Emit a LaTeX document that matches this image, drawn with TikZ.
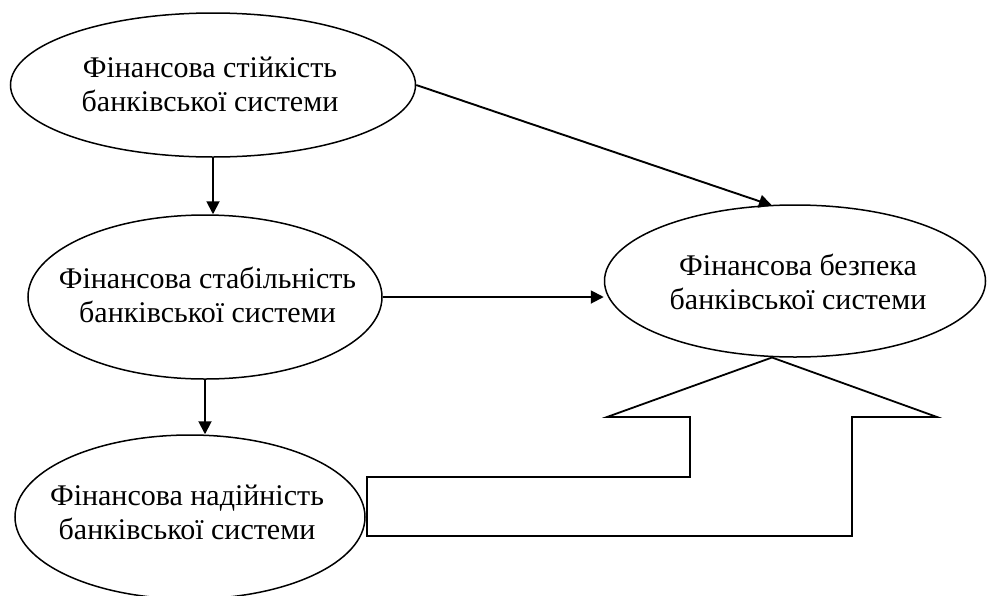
\documentclass[tikz,border=0pt]{standalone}
\usepackage{fontspec}
\setmainfont{Liberation Serif}
\usetikzlibrary{shapes.geometric,arrows.meta}
\begin{document}
\begin{tikzpicture}[x=1pt,y=-1pt,
  oval/.style={ellipse,draw,line width=1.5pt,inner sep=0pt},
  lbl/.style={anchor=base,inner sep=0pt,font=\fontsize{30}{34}\selectfont},
  arr/.style={line width=1.9pt,-{Triangle[length=13pt,width=13pt]}},
  hollow/.style={line width=1.8pt,line join=miter}]
\path[use as bounding box] (0,0) rectangle (987,595);
\node[oval,minimum width=405pt,minimum height=144pt] (e1) at (213,85) {};
\node[oval,minimum width=354pt,minimum height=164pt] (e2) at (205,297) {};
\node[oval,minimum width=350pt,minimum height=164pt] (e3) at (190,517) {};
\node[oval,minimum width=381pt,minimum height=152pt] (e4) at (795,281) {};
\coordinate (top4) at (772,205.5);
\coordinate (bot4) at (772,357.5);
\node[lbl] (t1) at (210,77.5) {\begin{tabular}[t]{@{}c@{}}Фінансова стійкість\\банківської системи\end{tabular}};
\node[lbl] (t2) at (207.5,288.5) {\begin{tabular}[t]{@{}c@{}}Фінансова стабільність\\банківської системи\end{tabular}};
\node[lbl] (t3) at (187,505) {\begin{tabular}[t]{@{}c@{}}Фінансова надійність\\банківської системи\end{tabular}};
\node[lbl] (t4) at (798,275) {\begin{tabular}[t]{@{}c@{}}Фінансова безпека\\банківської системи\end{tabular}};
\draw[arr] (e1.south) -- (e1.south |- e2.north);
\draw[arr] (e2.south) -- (e2.south |- e3.north);
\draw[arr] (e2.east) -- (e2.east -| e4.west);
\draw[arr] (e1.east) -- (top4);
\draw[hollow] (bot4) -- (937,417) -- (852,417) -- (852,536) -- (367,536) -- (367,477) -- (690,477) -- (690,417) -- (607,417) -- cycle;
\end{tikzpicture}
\end{document}
